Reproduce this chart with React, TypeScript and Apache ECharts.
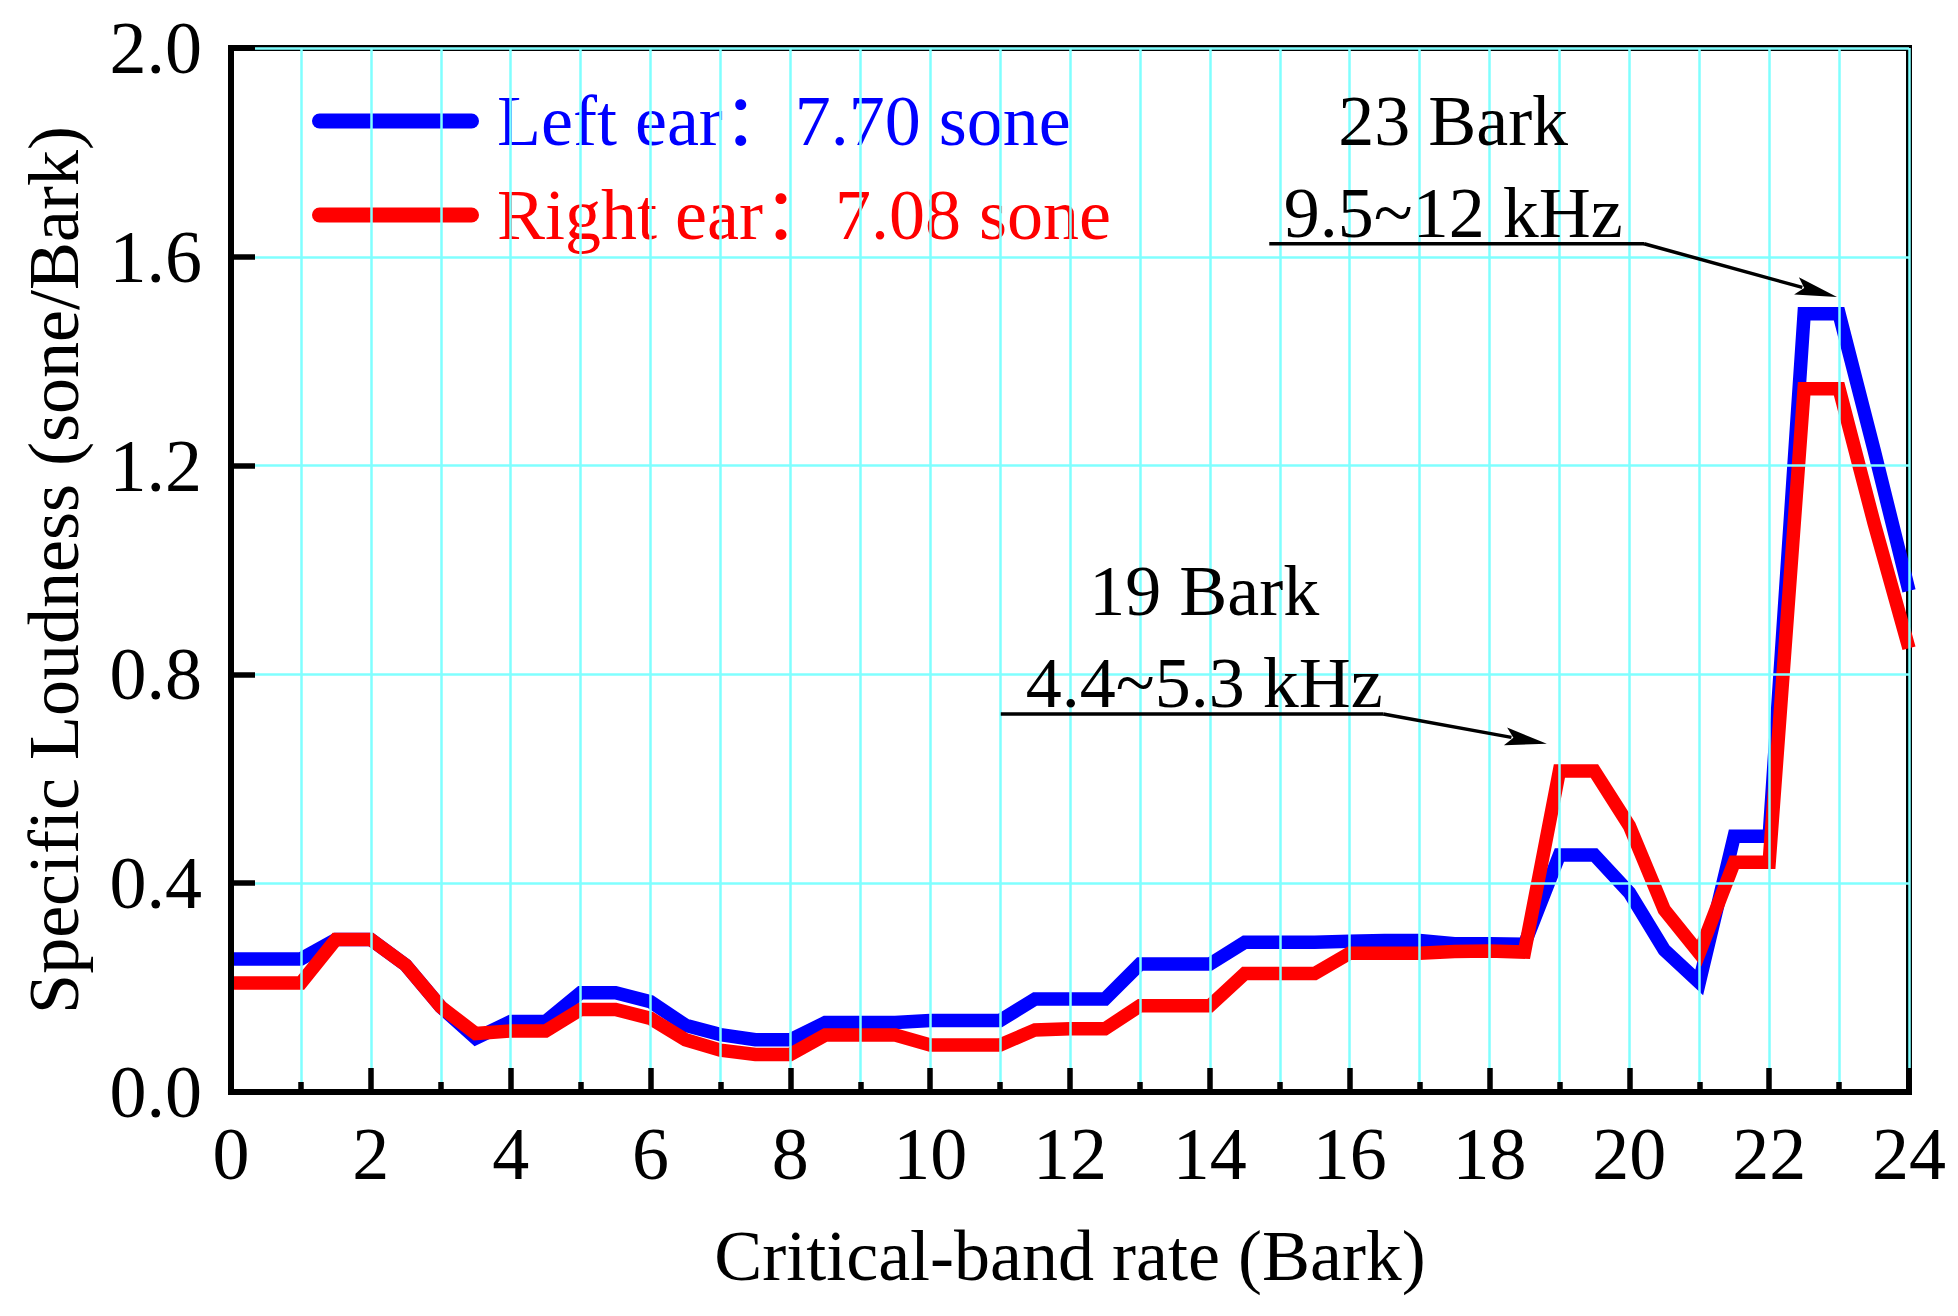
import React, { useEffect, useRef } from "react";
import * as echarts from "echarts";

const barks = [
  0, 0.5, 1, 1.5, 2, 2.5, 3, 3.5, 4, 4.5, 5, 5.5, 6, 6.5, 7, 7.5, 8, 8.5, 9, 9.5,
  10, 10.5, 11, 11.5, 12, 12.5, 13, 13.5, 14, 14.5, 15, 15.5, 16, 16.5, 17, 17.5,
  18, 18.5, 19, 19.5, 20, 20.5, 21, 21.5, 22, 22.5, 23, 23.5, 24,
];

const leftEar = [
  0.255, 0.255, 0.255, 0.292, 0.292, 0.243, 0.163, 0.103, 0.135, 0.135, 0.19, 0.19,
  0.173, 0.128, 0.11, 0.1, 0.1, 0.133, 0.133, 0.133, 0.137, 0.137, 0.137, 0.178,
  0.178, 0.178, 0.245, 0.245, 0.245, 0.287, 0.287, 0.287, 0.289, 0.29, 0.29, 0.284,
  0.284, 0.283, 0.454, 0.454, 0.382, 0.272, 0.21, 0.49, 0.49, 1.491, 1.491, 1.23, 0.96,
];

const rightEar = [
  0.209, 0.209, 0.209, 0.292, 0.292, 0.243, 0.163, 0.112, 0.117, 0.117, 0.158, 0.158,
  0.141, 0.1, 0.08, 0.072, 0.072, 0.109, 0.109, 0.109, 0.09, 0.09, 0.09, 0.119,
  0.121, 0.121, 0.165, 0.165, 0.165, 0.227, 0.227, 0.227, 0.266, 0.266, 0.266, 0.269,
  0.27, 0.268, 0.615, 0.615, 0.51, 0.349, 0.266, 0.44, 0.44, 1.347, 1.347, 1.09, 0.85,
];

const seriesNames = ["Left ear：7.70 sone", "Right ear：7.08 sone"];
const seriesColors = ["#0000FF", "#FF0000"];

const xAxisName = "Critical-band rate (Bark)";
const yAxisName = "Specific Loudness (sone/Bark)";

// annotation anchors in data coordinates
const annotationTop = ["23 Bark", "19 Bark"];
const annotationBottom = ["9.5~12 kHz", "4.4~5.3 kHz"];
const annotationTextX = [17.48, 13.92];
const annotationLineStart = [14.85, 11.01];
const annotationLineEnd = [20.21, 16.48];
const annotationLineY = [1.625, 0.724];
const annotationTipX = [22.97, 18.82];
const annotationTipY = [1.523, 0.667];

const FONT = "'Liberation Serif', 'Times New Roman', 'Noto Sans CJK SC', serif";
const GRID_COLOR = "#80FFFF";

export default function App() {
  const ref = useRef<HTMLDivElement>(null);

  useEffect(() => {
    document.body.style.margin = "0";
    const chart = echarts.init(ref.current!, null, { renderer: "svg" });

    const legendIcon =
      "path://M7.5 0H159.5A7.5 7.5 0 0 1 159.5 15H7.5A7.5 7.5 0 0 1 7.5 0Z";

    const option: any = {
      animation: false,
      backgroundColor: "#ffffff",
      textStyle: { fontFamily: FONT },
      grid: {
        left: 231,
        right: 49,
        top: 48,
        bottom: 224,
        show: true,
        borderColor: "#000",
        borderWidth: 6,
        backgroundColor: "transparent",
      },
      legend: {
        orient: "vertical",
        left: 312,
        top: 85,
        padding: 0,
        itemWidth: 167,
        itemHeight: 15,
        itemGap: 22,
        itemStyle: { borderWidth: 0 },
        data: seriesNames.map((n, i) => ({
          name: n,
          icon: legendIcon,
          textStyle: {
            color: seriesColors[i],
            fontSize: 72,
            fontFamily: FONT,
            padding: [0, 0, 0, 13],
          },
        })),
      },
      xAxis: [
        {
          type: "value",
          min: 0,
          max: 24,
          interval: 2,
          name: xAxisName,
          nameLocation: "middle",
          nameGap: 128,
          nameTextStyle: { fontSize: 72, color: "#000", fontFamily: FONT },
          axisLine: { show: true, lineStyle: { color: "#000", width: 6 } },
          axisTick: { show: true, inside: true, length: 24, lineStyle: { color: "#000", width: 5.5 } },
          minorTick: { show: true, splitNumber: 2, length: 10, lineStyle: { color: "#000", width: 5.5 } },
          splitLine: { show: true, lineStyle: { color: GRID_COLOR, width: 2.5 } },
          minorSplitLine: { show: true, lineStyle: { color: GRID_COLOR, width: 2.5 } },
          axisLabel: { fontSize: 74, color: "#000", margin: 25, fontFamily: FONT },
          z: 5,
        },
        {
          type: "value",
          position: "top",
          min: 0,
          max: 24,
          interval: 2,
          axisLine: { show: true, lineStyle: { color: "#000", width: 6 } },
          axisTick: { show: false },
          axisLabel: { show: false },
          splitLine: { show: false },
          z: 5,
        },
      ],
      yAxis: [
        {
          type: "value",
          min: 0,
          max: 2,
          interval: 0.4,
          name: yAxisName,
          nameLocation: "middle",
          nameGap: 141,
          nameTextStyle: { fontSize: 72, color: "#000", fontFamily: FONT },
          axisLine: { show: true, lineStyle: { color: "#000", width: 6 } },
          axisTick: { show: true, inside: true, length: 24, lineStyle: { color: "#000", width: 5.5 } },
          splitLine: { show: true, lineStyle: { color: GRID_COLOR, width: 2.5 } },
          axisLabel: {
            fontSize: 74,
            color: "#000",
            margin: 29,
            fontFamily: FONT,
            formatter: (v: number) => v.toFixed(1),
          },
          z: 5,
        },
        {
          type: "value",
          position: "right",
          min: 0,
          max: 2,
          interval: 0.4,
          axisLine: { show: true, lineStyle: { color: "#000", width: 6 } },
          axisTick: { show: false },
          axisLabel: { show: false },
          splitLine: { show: false },
          z: 5,
        },
      ],
      series: [leftEar, rightEar].map((vals, i) => ({
        type: "line",
        name: seriesNames[i],
        data: barks.map((b, j) => [b, vals[j]]),
        xAxisIndex: 0,
        yAxisIndex: 0,
        symbol: "none",
        showSymbol: false,
        color: seriesColors[i],
        itemStyle: { color: seriesColors[i] },
        lineStyle: { color: seriesColors[i], width: 13.5, join: "miter", cap: "butt" },
        clip: true,
        z: 3,
      })),
    };

    chart.setOption(option);

    const px = (x: number, y: number) =>
      chart.convertToPixel({ gridIndex: 0 }, [x, y]) as number[];

    const graphics: any[] = [];
    for (let i = 0; i < annotationTop.length; i++) {
      const a = px(annotationLineStart[i], annotationLineY[i]);
      const b = px(annotationLineEnd[i], annotationLineY[i]);
      const t = px(annotationTipX[i], annotationTipY[i]);
      const tx = px(annotationTextX[i], annotationLineY[i])[0];
      const lineY = a[1];
      graphics.push({
        type: "line",
        shape: { x1: a[0], y1: lineY, x2: b[0], y2: lineY },
        style: { stroke: "#000", lineWidth: 3.5 },
        z: 10,
      });
      const dx = t[0] - b[0];
      const dy = t[1] - lineY;
      const len = Math.sqrt(dx * dx + dy * dy);
      const ux = dx / len;
      const uy = dy / len;
      const headLen = 42;
      const halfW = 9;
      const bx = t[0] - headLen * ux;
      const by = t[1] - headLen * uy;
      graphics.push({
        type: "line",
        shape: { x1: b[0], y1: lineY, x2: bx + 6 * ux, y2: by + 6 * uy },
        style: { stroke: "#000", lineWidth: 3.5 },
        z: 10,
      });
      graphics.push({
        type: "polygon",
        shape: {
          points: [
            [t[0], t[1]],
            [bx - halfW * uy, by + halfW * ux],
            [bx + 8 * ux, by + 8 * uy],
            [bx + halfW * uy, by - halfW * ux],
          ],
        },
        style: { fill: "#000" },
        z: 10,
      });
      graphics.push({
        type: "text",
        x: tx,
        y: lineY - 7 - 24,
        style: {
          text: annotationBottom[i],
          fontSize: 72,
          fontFamily: FONT,
          fill: "#000",
          align: "center",
          verticalAlign: "middle",
        },
        z: 10,
      });
      graphics.push({
        type: "text",
        x: tx,
        y: lineY - 99 - 24,
        style: {
          text: annotationTop[i],
          fontSize: 72,
          fontFamily: FONT,
          fill: "#000",
          align: "center",
          verticalAlign: "middle",
        },
        z: 10,
      });
    }
    chart.setOption({ graphic: graphics });

    return () => chart.dispose();
  }, []);

  return <div ref={ref} style={{ width: 1958, height: 1316 }} />;
}
